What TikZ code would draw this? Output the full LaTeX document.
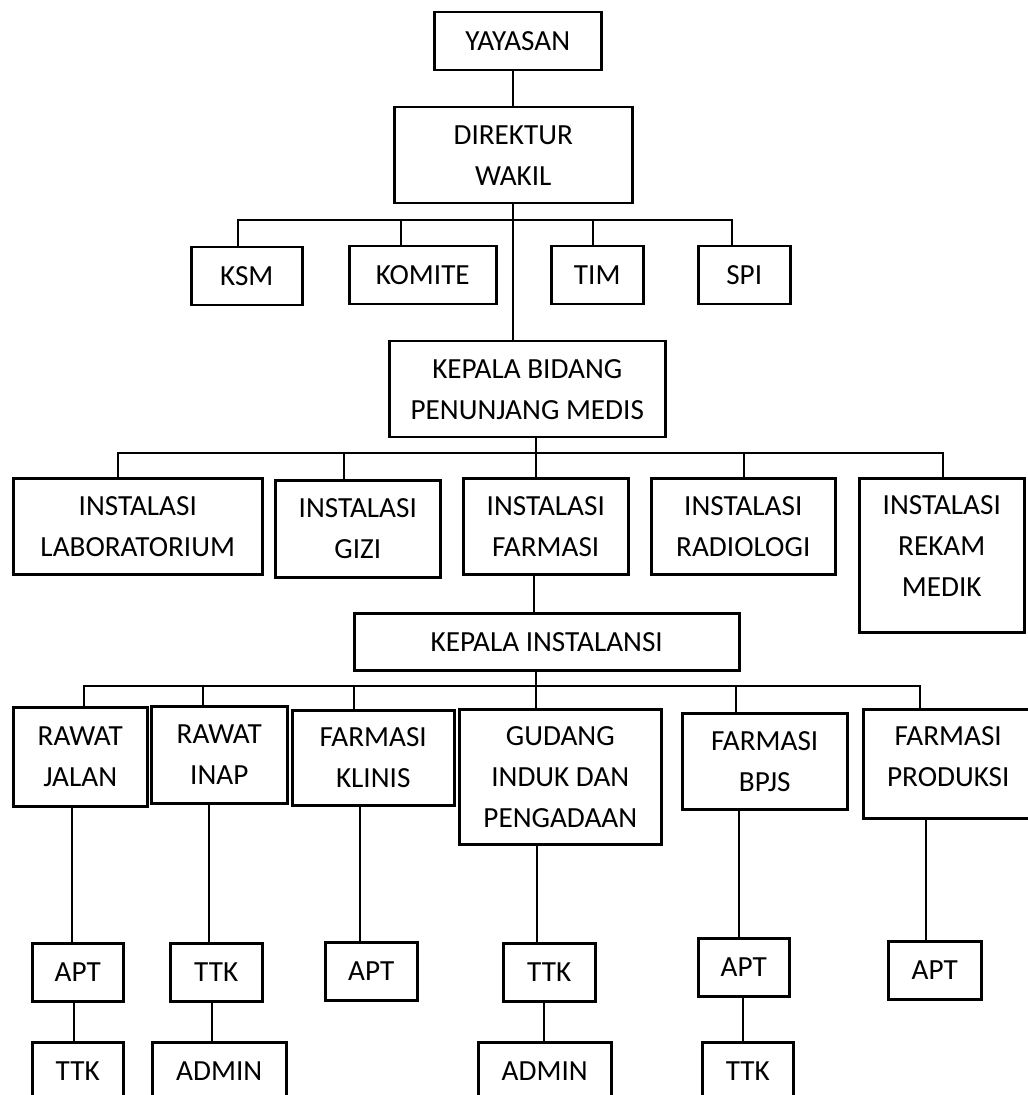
\documentclass[tikz,border=0pt]{standalone}
\usepackage{fontspec}
\setmainfont{Carlito}
\tikzset{
    box/.style={draw=black, line width=1.25pt, rectangle, align=center, inner sep=0pt, anchor=north west, font=\fontsize{14.6pt}{20.5pt}\selectfont},
    sz/.style 2 args={minimum width=#1*0.5pt, minimum height=#2*0.5pt},
    lbl/.style={draw=none, align=center, anchor=center, inner sep=0pt, font=\fontsize{14.6pt}{20.5pt}\selectfont},
    link/.style={draw=black, line width=1pt}
}

\begin{document}
\begin{tikzpicture}[x=0.5pt, y=-0.5pt]
    \useasboundingbox (0,0) rectangle (1027,1095);

    % top
    \node[box, sz={167}{58}] (yayasan) at (433,11) {YAYASAN};
    \node[box, sz={238}{96}] (direktur) at (393,106) {DIREKTUR\\WAKIL};
    \node[box, sz={111}{58}] (ksm) at (190,246) {KSM};
    \node[box, sz={147}{58}] (komite) at (348,245) {KOMITE};
    \node[box, sz={92}{58}] (tim) at (550,245) {TIM};
    \node[box, sz={92}{58}] (spi) at (697,245) {SPI};
    \node[box, sz={276}{96}] (kabid) at (388,340) {KEPALA BIDANG\\PENUNJANG MEDIS};

    % instalasi
    \node[box, sz={249}{96}] (lab) at (12,477) {INSTALASI\\LABORATORIUM};
    \node[box, sz={165}{97}] (gizi) at (274,479) {INSTALASI\\GIZI};
    \node[box, sz={165}{96}] (farmasi) at (462,477) {INSTALASI\\FARMASI};
    \node[box, sz={184}{96}] (radiologi) at (650,477) {INSTALASI\\RADIOLOGI};
    \node[box, sz={165}{154}, label={[lbl, yshift=-34.5pt]north:{INSTALASI\\REKAM\\MEDIK}}] (rekam) at (858,477) {};
    \node[box, sz={385}{57}] (kains) at (353,612) {KEPALA INSTALANSI};

    % unit farmasi
    \node[box, sz={134}{99}] (rjalan) at (12,706) {RAWAT\\JALAN};
    \node[box, sz={136}{97}] (rinap) at (150,705) {RAWAT\\INAP};
    \node[box, sz={162}{95}] (klinis) at (291,709) {FARMASI\\KLINIS};
    \node[box, sz={202}{135}] (gudang) at (458,708) {GUDANG\\INDUK DAN\\PENGADAAN};
    \node[box, sz={165}{96}] (bpjs) at (681,712) {FARMASI\\BPJS};
    \node[box, sz={170}{109}, label={[lbl, yshift=-24.25pt]north:{FARMASI\\PRODUKSI}}] (produksi) at (862,708) {};

    % staf
    \node[box, sz={91}{58}] (aptjalan) at (31,942) {APT};
    \node[box, sz={91}{58}] (ttkjalan) at (31,1041) {TTK};
    \node[box, sz={92}{58}] (ttkinap) at (169,942) {TTK};
    \node[box, sz={134}{58}] (admininap) at (151,1041) {ADMIN};
    \node[box, sz={92}{58}] (aptklinis) at (324,941) {APT};
    \node[box, sz={92}{58}] (ttkgudang) at (502,942) {TTK};
    \node[box, sz={133}{58}] (admingudang) at (477,1041) {ADMIN};
    \node[box, sz={91}{58}] (aptbpjs) at (697,937) {APT};
    \node[box, sz={91}{58}] (ttkbpjs) at (701,1041) {TTK};
    \node[box, sz={93}{58}] (aptproduksi) at (887,940) {APT};

    % garis
    \draw[link] (direktur.north) -- (direktur.north |- yayasan.south);
    \draw[link] (direktur.south) -- (direktur.south |- kabid.north);
    \draw[link] (238,0 |- ksm.north) -- (238,220) -- (732,220) -- (732,0 |- spi.north);
    \draw[link] (401,220) -- (401,0 |- komite.north);
    \draw[link] (593,220) -- (593,0 |- tim.north);

    \draw[link] (536,0 |- kabid.south) -- (536,0 |- farmasi.north);
    \draw[link] (118,0 |- lab.north) -- (118,453) -- (943,453) -- (943,0 |- rekam.north);
    \draw[link] (344,453) -- (344,0 |- gizi.north);
    \draw[link] (744,453) -- (744,0 |- radiologi.north);

    \draw[link] (534,0 |- farmasi.south) -- (534,0 |- kains.north);
    \draw[link] (536,0 |- kains.south) -- (536,0 |- gudang.north);
    \draw[link] (84,0 |- rjalan.north) -- (84,686) -- (920,686) -- (920,0 |- produksi.north);
    \draw[link] (203,686) -- (203,0 |- rinap.north);
    \draw[link] (354,686) -- (354,0 |- klinis.north);
    \draw[link] (736,686) -- (736,0 |- bpjs.north);

    \draw[link] (72,0 |- rjalan.south) -- (72,0 |- aptjalan.north);
    \draw[link] (74,0 |- aptjalan.south) -- (74,0 |- ttkjalan.north);
    \draw[link] (209,0 |- rinap.south) -- (209,0 |- ttkinap.north);
    \draw[link] (212,0 |- ttkinap.south) -- (212,0 |- admininap.north);
    \draw[link] (360,0 |- klinis.south) -- (360,0 |- aptklinis.north);
    \draw[link] (537,0 |- gudang.south) -- (537,0 |- ttkgudang.north);
    \draw[link] (544,0 |- ttkgudang.south) -- (544,0 |- admingudang.north);
    \draw[link] (739,0 |- bpjs.south) -- (739,0 |- aptbpjs.north);
    \draw[link] (743,0 |- aptbpjs.south) -- (743,0 |- ttkbpjs.north);
    \draw[link] (926,0 |- produksi.south) -- (926,0 |- aptproduksi.north);
\end{tikzpicture}
\end{document}
